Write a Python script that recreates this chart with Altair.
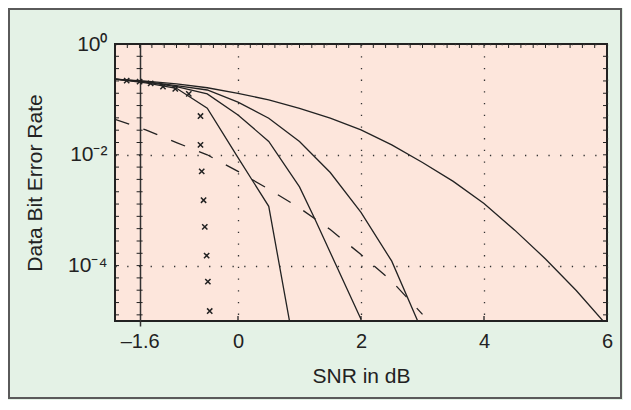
import altair as alt
import pandas as pd

# ---- data (log10 of bit error rate) ----
snr_c1 = [-2, -1.5, -1, -0.5, 0, 0.5, 1, 1.5, 2, 2.5, 3, 3.5, 4, 4.5, 5, 5.5, 6]
log_c1 = [-0.634, -0.67, -0.72, -0.79, -0.89, -1.01, -1.16, -1.34, -1.55, -1.82,
          -2.14, -2.48, -2.88, -3.36, -3.88, -4.45, -5.08]

snr_c2 = [-2, -1.5, -1, -0.5, 0, 0.5, 1, 1.5, 2, 2.5, 3]
log_c2 = [-0.634, -0.68, -0.75, -0.83, -1.05, -1.34, -1.76, -2.32, -3.04, -3.92, -5.2]

snr_c3 = [-2, -1.5, -1, -0.5, 0, 0.5, 1, 1.25, 2]
log_c3 = [-0.634, -0.69, -0.77, -0.90, -1.28, -1.76, -2.58, -3.16, -4.97]

snr_c4 = [-2, -1.5, -1, -0.5, 0, 0.5, 1]
log_c4 = [-0.634, -0.70, -0.80, -1.16, -2.05, -2.93, -6.0]

snr_dash = [-2, -1.5, -1, -0.5, 0, 0.5, 1, 1.5, 2, 2.5, 3]
log_dash = [-1.36, -1.55, -1.78, -2.0, -2.30, -2.62, -2.96, -3.35, -3.80, -4.28, -4.88]

snr_x = [-1.81, -1.60, -1.42, -1.22, -1.02, -0.80, -0.61, -0.61, -0.59, -0.56,
         -0.54, -0.51, -0.49, -0.46]
log_x = [-0.66, -0.68, -0.71, -0.77, -0.81, -0.90, -1.30, -1.82, -2.30, -2.82,
         -3.30, -3.82, -4.29, -4.82]

x_major = [-1.6, 0, 2, 4, 6]
y_major = [1, 0.01, 0.0001]
x_minor = [round(-2 + 0.2 * i, 1) for i in range(41)]
y_minor_exp = [0, -0.222, -0.444, -0.667, -0.889, -1.111, -1.333, -1.556, -1.778,
               -2.0, -2.222, -2.444, -2.667, -2.889, -3.111, -3.333, -3.556,
               -3.778, -4.0, -4.222, -4.444, -4.667, -4.889]

# ---- tables ----
rows = []
for name, xs_, ls in [("c1", snr_c1, log_c1), ("c2", snr_c2, log_c2),
                      ("c3", snr_c3, log_c3), ("c4", snr_c4, log_c4)]:
    for xv, lv in zip(xs_, ls):
        rows.append({"curve": name, "snr": xv, "ber": 10 ** lv})
curves = pd.DataFrame(rows)
dashed = pd.DataFrame({"snr": snr_dash, "ber": [10 ** v for v in log_dash]})
crosses = pd.DataFrame({"snr": snr_x, "ber": [10 ** v for v in log_x]})
yminor = pd.DataFrame({"v": [10 ** v for v in y_minor_exp]})
xminor = pd.DataFrame({"v": x_minor})
xmaj = pd.DataFrame({"v": [0, 2, 4]})

INK = "#222222"
FONT = "Liberation Sans"
W, H = 492, 277

xs = alt.Scale(domain=[-2, 6], nice=False, zero=False)
ys = alt.Scale(type="log", domain=[1e-5, 1], nice=False)

x_axis = alt.Axis(
    values=x_major, title="SNR in dB",
    labelExpr="datum.value < -1 ? '\u20131.6' : format(datum.value, 'd')",
    labelFont=FONT, labelFontSize=20, labelColor=INK, labelPadding=5,
    labelFlush=False, labelOverlap=False,
    titleFont=FONT, titleFontSize=21, titleFontWeight="normal",
    titleColor=INK, titlePadding=14,
    domain=False,
    tickSize=5, tickColor={"condition": {"test": "datum.value < -1", "value": "#333333"},
                           "value": "transparent"}, tickWidth=1.5,
    grid=True,
    gridColor="#333333",
    gridWidth={"condition": {"test": "datum.value < -1", "value": 1.5}, "value": 1.3},
    gridDash={"condition": {"test": "datum.value < -1", "value": []}, "value": [1.3, 10.4]},
)
y_axis = alt.Axis(
    values=y_major, title="Data Bit Error Rate",
    labelExpr="datum.value > 0.5 ? '10\u2070' : (datum.value > 0.001 ? '10\u207b\u00b2' : '10\u207b\u2074')",
    labelFont=FONT, labelFontSize=21, labelColor=INK, labelPadding=8,
    labelFlush=False, labelOverlap=False,
    titleFont=FONT, titleFontSize=21, titleFontWeight="normal",
    titleColor=INK, titlePadding=22,
    domain=False, ticks=False,
    grid=True, gridColor="#333333", gridWidth=1.3, gridDash=[1.3, 10.4],
)

lines = alt.Chart(curves).mark_line(color=INK, strokeWidth=1.3, clip=True).encode(
    x=alt.X("snr:Q", scale=xs, axis=x_axis),
    y=alt.Y("ber:Q", scale=ys, axis=y_axis),
    detail="curve:N",
    order="snr:Q",
)
dash = alt.Chart(dashed).mark_line(color=INK, strokeWidth=1.3, strokeDash=[15, 15], clip=True).encode(
    x=alt.X("snr:Q", scale=xs), y=alt.Y("ber:Q", scale=ys))
marks = alt.Chart(crosses).mark_point(
    shape="M-1,-1L1,1M-1,1L1,-1", size=28, stroke=INK, strokeWidth=1.5, filled=False, opacity=1
).encode(x=alt.X("snr:Q", scale=xs), y=alt.Y("ber:Q", scale=ys))

tick_l = alt.Chart(yminor).mark_rule(color=INK, strokeWidth=1).encode(
    y=alt.Y("v:Q", scale=ys), x=alt.value(0), x2=alt.value(4))
tick_r = alt.Chart(yminor).mark_rule(color=INK, strokeWidth=1).encode(
    y=alt.Y("v:Q", scale=ys), x=alt.value(W - 4), x2=alt.value(W))
tick_m = alt.Chart(yminor).mark_rule(color=INK, strokeWidth=1, xOffset=-3, x2Offset=3).encode(
    y=alt.Y("v:Q", scale=ys), x=alt.X(datum=-1.6, scale=xs), x2=alt.X2(datum=-1.6))
tick_t = alt.Chart(xminor).mark_rule(color=INK, strokeWidth=1).encode(
    x=alt.X("v:Q", scale=xs), y=alt.value(0), y2=alt.value(4))
tick_b = alt.Chart(xmaj).mark_rule(color=INK, strokeWidth=1.3).encode(
    x=alt.X("v:Q", scale=xs), y=alt.value(H - 5), y2=alt.value(H))

frame = alt.Chart(pd.DataFrame({"k": [0]})).mark_rect(
    filled=False, stroke="#5a5a5a", strokeWidth=2, fill="transparent").encode(
    x=alt.value(-106), x2=alt.value(W + 14), y=alt.value(-35), y2=alt.value(H + 77))

chart = alt.layer(frame, tick_l, tick_r, tick_m, tick_t, tick_b, dash, lines, marks).properties(
    width=W, height=H,
    autosize=alt.AutoSizeParams(type="none"),
    padding={"left": 107, "top": 36, "right": 16, "bottom": 79},
    background="#E4F2E6",
).configure_view(
    fill="#FDE6DC", stroke=INK, strokeWidth=2,
)

chart.save("out.html", embed_options={"renderer": "svg", "actions": False})
